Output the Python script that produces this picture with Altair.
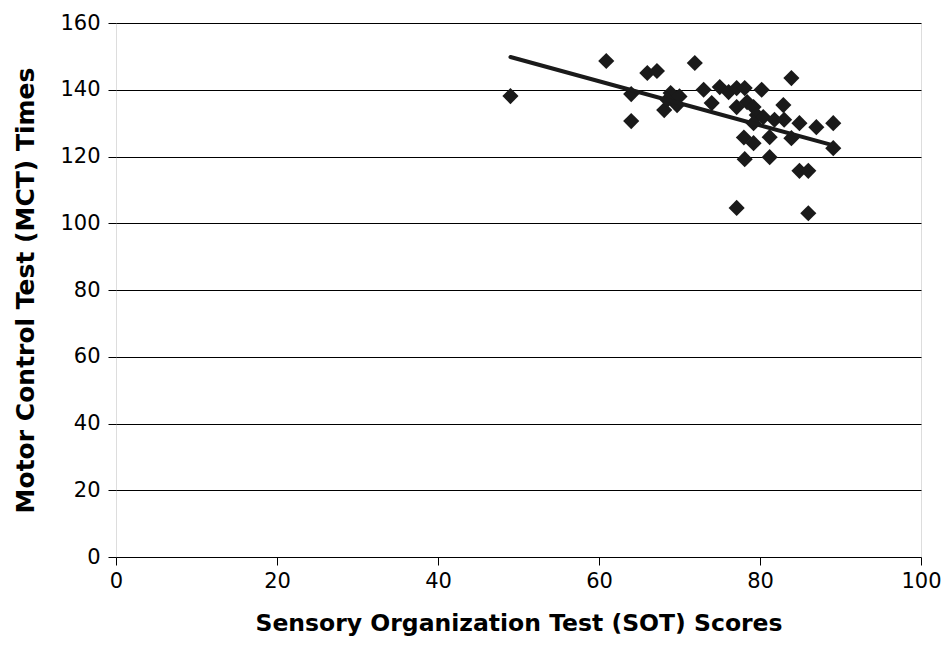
import altair as alt
import pandas as pd

sot = [49, 60.9, 66, 67.2, 64, 64, 68.9, 68.1, 71.9, 69.7, 69.7, 73, 74, 75, 76.1, 77.1, 78.1, 80.2,
       77.1, 78.4, 79.2, 79.6, 79.2, 80.4, 82.9, 81.8, 83, 84.9, 87, 89.1, 89.1, 83.9, 78, 79.2,
       81.2, 83.9, 78.1, 81.2, 84.9, 86, 77.1, 86, 68.5, 70]
mct = [138.1, 148.6, 145, 145.6, 138.7, 130.6, 139, 133.9, 148, 137.5, 135.4, 140, 136, 140.8, 139.3,
       140.5, 140.5, 140, 134.8, 136.3, 134.8, 132.4, 130, 131.8, 135.4, 131, 131, 130, 128.8, 130,
       122.5, 143.5, 125.7, 124, 125.8, 125.5, 119.2, 119.8, 115.7, 115.7, 104.6, 103, 137, 138]

fit_x = [49, 89]
fit_y = [149.8, 123.4]

pts = pd.DataFrame({"sot": sot, "mct": mct})
fit = pd.DataFrame({"sot": fit_x, "mct": fit_y})

xscale = alt.Scale(domain=[0, 100], nice=False, zero=False)
yscale = alt.Scale(domain=[0, 160], nice=False, zero=False)

FONT = "DejaVu Sans"

xaxis = alt.Axis(values=[0, 20, 40, 60, 80, 100], grid=False, ticks=True, tickSize=8,
                 tickColor="black", domain=False, labelFontSize=21, labelPadding=5,
                 labelColor="black", labelFont=FONT, labelFlush=False,
                 title="Sensory Organization Test (SOT) Scores", titleFontSize=23.5,
                 titleFont=FONT, titleFontWeight="bold", titleColor="black",
                 titlePadding=20)
yaxis = alt.Axis(values=[0, 20, 40, 60, 80, 100, 120, 140, 160], grid=True, gridColor="black",
                 gridWidth=1, gridOpacity=1, ticks=True, tickSize=8, tickColor="black",
                 domain=False, labelFontSize=21, labelPadding=8, labelColor="black",
                 labelFont=FONT, labelFlush=False,
                 title="Motor Control Test (MCT) Times", titleFontSize=25,
                 titleFont=FONT, titleFontWeight="bold", titleColor="black",
                 titlePadding=21)

points = alt.Chart(pts).mark_point(shape="diamond", filled=True, size=260, color="#1a1a1a",
                                   opacity=1).encode(
    x=alt.X("sot:Q", scale=xscale, axis=xaxis),
    y=alt.Y("mct:Q", scale=yscale, axis=yaxis),
)

line = alt.Chart(fit).mark_line(color="#1a1a1a", strokeWidth=4, strokeCap="round").encode(
    x=alt.X("sot:Q", scale=xscale),
    y=alt.Y("mct:Q", scale=yscale),
)

chart = alt.layer(points, line).properties(
    width=805, height=534,
    autosize=alt.AutoSizeParams(type="none"),
    padding={"left": 108, "top": 15, "right": 20, "bottom": 90},
).configure_view(stroke="black", strokeWidth=2).configure(background="white")

chart.save("out.html", embed_options={"renderer": "svg", "actions": False})
